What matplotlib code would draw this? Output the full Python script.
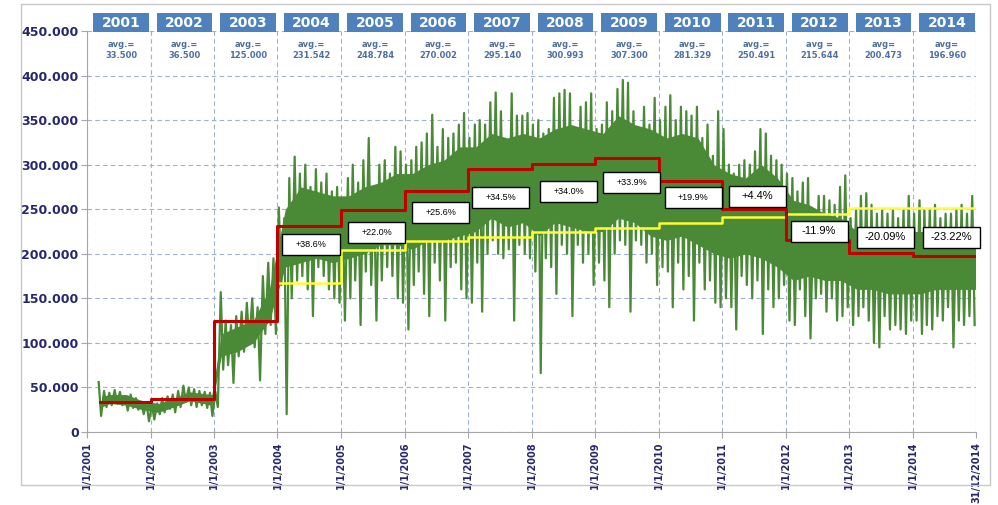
import datetime as dt
import matplotlib
matplotlib.use("Agg")
import matplotlib.pyplot as plt
import matplotlib.dates as mdates
import matplotlib.transforms as mtransforms
from matplotlib.patches import Rectangle

# ---- data ----
years = list(range(2001, 2015))
year_avg = [33500, 36500, 125000, 231542, 248784, 270002, 295140,
            300993, 307300, 281329, 250491, 215644, 200473, 196960]
avg_prefix = ["avg.="] * 11 + ["avg =", "avg=", "avg="]

# second (yellow) step line, from 2004 on
yellow_years = list(range(2004, 2015))
yellow_val = [167000, 204000, 214000, 219000, 224000, 229000,
              234000, 241000, 244500, 251500, 251500]

pct_labels = ["+38.6%", "+22.0%", "+25.6%", "+34.5%", "+34.0%", "+33.9%",
              "+19.9%", "+4.4%", "-11.9%", "-20.09%", "-23.22%"]

# daily series, summarised as monthly high / low spikes (thousands); 2001 starts in March
hi01 = [56, 46, 44, 47, 45, 40, 42, 38, 34, 33]
lo01 = [18, 28, 30, 32, 30, 24, 27, 25, 20, 12]
hi02 = [30, 32, 38, 40, 42, 46, 52, 50, 48, 46, 45, 44]
lo02 = [14, 20, 22, 26, 22, 28, 34, 30, 28, 30, 27, 18]
hi03 = [45, 157, 125, 120, 130, 135, 145, 150, 140, 175, 190, 195]
lo03 = [28, 70, 75, 55, 85, 90, 100, 95, 58, 110, 120, 110]
hi04 = [252, 240, 285, 309, 290, 300, 275, 295, 280, 290, 270, 275]
lo04 = [165, 20, 150, 170, 175, 160, 130, 185, 175, 160, 150, 145]
hi05 = [260, 285, 300, 280, 305, 330, 270, 300, 305, 290, 320, 315]
lo05 = [125, 150, 170, 120, 180, 165, 125, 170, 185, 175, 150, 145]
hi06 = [300, 305, 320, 325, 335, 356, 320, 340, 330, 335, 345, 358]
lo06 = [115, 165, 180, 155, 130, 190, 170, 125, 185, 190, 160, 150]
hi07 = [330, 345, 350, 345, 370, 381, 360, 320, 380, 355, 355, 358]
lo07 = [145, 190, 135, 200, 215, 200, 195, 205, 125, 210, 200, 195]
hi08 = [345, 350, 335, 340, 375, 380, 384, 380, 340, 365, 370, 380]
lo08 = [180, 66, 195, 185, 155, 210, 200, 130, 210, 190, 200, 165]
hi09 = [340, 345, 370, 360, 385, 395, 392, 360, 340, 365, 345, 375]
lo09 = [190, 170, 140, 200, 215, 210, 135, 215, 210, 190, 200, 165]
hi10 = [350, 365, 378, 350, 365, 360, 355, 365, 330, 345, 310, 360]
lo10 = [185, 180, 140, 190, 160, 175, 125, 190, 160, 170, 145, 140]
hi11 = [340, 300, 290, 300, 305, 300, 315, 340, 335, 310, 305, 300]
lo11 = [150, 140, 115, 175, 165, 150, 170, 110, 160, 140, 150, 165]
hi12 = [290, 285, 270, 280, 285, 250, 265, 265, 260, 255, 275, 288]
lo12 = [125, 120, 160, 130, 105, 150, 155, 135, 150, 125, 130, 140]
hi13 = [240, 250, 265, 268, 255, 245, 250, 245, 250, 240, 250, 265]
lo13 = [120, 130, 140, 125, 100, 95, 130, 115, 120, 115, 110, 125]
hi14 = [245, 260, 250, 250, 255, 240, 245, 245, 250, 255, 245, 265]
lo14 = [125, 110, 120, 115, 130, 125, 140, 95, 125, 120, 130, 120]

highs = [hi01, hi02, hi03, hi04, hi05, hi06, hi07, hi08, hi09, hi10, hi11, hi12, hi13, hi14]
lows = [lo01, lo02, lo03, lo04, lo05, lo06, lo07, lo08, lo09, lo10, lo11, lo12, lo13, lo14]

# solid body of the daily series, per quarter (thousands)
band_top = [40, 42, 42, 35,   32, 38, 45, 42,   110, 118, 125, 160,
            250, 275, 270, 265,   265, 275, 280, 290,   290, 300, 305, 320,
            320, 335, 330, 335,   330, 340, 345, 340,   335, 355, 345, 340,
            330, 335, 330, 300,   290, 285, 300, 285,   260, 255, 245, 240,
            225, 230, 225, 225,   225, 225, 225, 230]
band_bot = [28, 32, 30, 25,   22, 28, 35, 30,   85, 90, 100, 125,
            185, 190, 195, 190,   195, 200, 210, 210,   205, 215, 215, 220,
            225, 240, 230, 235,   220, 235, 230, 225,   225, 240, 235, 220,
            215, 220, 210, 200,   195, 200, 195, 185,   170, 175, 170, 170,
            160, 160, 155, 155,   155, 160, 160, 160]

# ---- build the plotted series ----
gx, gy = [], []
for yr, hs, ls in zip(years, highs, lows):
    first = 13 - len(hs)
    for k, (h, l) in enumerate(zip(hs, ls)):
        m0 = dt.date(yr, first + k, 1)
        gx += [m0 + dt.timedelta(days=8), m0 + dt.timedelta(days=22)]
        gy += [h * 1000, l * 1000]

bx = []
for yr in years:
    for q in range(4):
        bx.append(dt.date(yr, 3 * q + 2, 15))
bx[0] = dt.date(2001, 3, 25)
bx[7] = dt.date(2002, 12, 20)
bx[8] = dt.date(2003, 2, 12)
bx[-1] = dt.date(2014, 12, 28)
btop = [v * 1000 for v in band_top]
bbot = [v * 1000 for v in band_bot]

start = dt.date(2001, 3, 15)
end = dt.date(2014, 12, 31)
red_x = [start] + [dt.date(y, 1, 1) for y in years[1:]] + [end]
red_y = year_avg + [year_avg[-1]]
yel_x = [dt.date(y, 1, 1) for y in yellow_years] + [end]
yel_y = yellow_val + [yellow_val[-1]]

navy = "#26266E"
green = "#4A8A37"
fig = plt.figure(figsize=(9.98, 5.05), dpi=100)
ax = fig.add_axes([0.0872, 0.1446, 0.8908, 0.7940])

ax.fill_between(bx, bbot, btop, color=green, lw=0, zorder=2)
ax.plot(gx, gy, color=green, lw=1.6, zorder=2)
ax.step(yel_x, yel_y, where="post", color="#FFFF33", lw=1.8, zorder=3)
ax.step(red_x, red_y, where="post", color="#C00000", lw=2.2, zorder=4)

ax.set_ylim(0, 450000)
ax.set_xlim(dt.date(2001, 1, 1), end)
ax.set_yticks(range(0, 450001, 50000))
ax.set_yticklabels(["0"] + [f"{v:,}".replace(",", ".") for v in range(50000, 450001, 50000)],
                   fontsize=9, fontweight="bold", color=navy)
xt = [dt.date(y, 1, 1) for y in years] + [end]
ax.set_xticks(xt)
ax.set_xticklabels([f"1/1/{y}" for y in years] + ["31/12/2014"], rotation=90,
                   fontsize=7, fontweight="bold", color=navy)
ax.tick_params(axis="y", length=4, color="#A6A6A6", pad=2)
ax.tick_params(axis="x", length=4, color="#A6A6A6", pad=3)
ax.grid(True, color="#9FB0CC", lw=0.8, ls=(0, (4, 3)))
ax.set_axisbelow(True)
for s in ("top", "right"):
    ax.spines[s].set_visible(False)
for s in ("left", "bottom"):
    ax.spines[s].set_color("#A6A6A6")

# year header boxes and averages above the plot
tr = mtransforms.blended_transform_factory(ax.transData, ax.transAxes)
for yr, av, pre in zip(years, year_avg, avg_prefix):
    x0 = mdates.date2num(dt.date(yr, 1, 1)) + 36
    ax.add_patch(Rectangle((x0, 0.998), 320, 0.047, transform=tr, clip_on=False,
                           facecolor="#4F81BD", edgecolor="none", zorder=5))
    ax.text(x0 + 160, 1.021, str(yr), transform=tr, ha="center", va="center",
            color="white", fontsize=10, fontweight="bold", zorder=6)
    ax.text(x0 + 160, 0.952, f"{pre}\n{av:,}".replace(",", "."), transform=tr,
            ha="center", va="center", color="#4D6FA3", fontsize=6,
            fontweight="bold", linespacing=1.3, zorder=6)

# percentage boxes (centre position in year fraction, value)
pct_pos = [(2004.528, 210400), (2005.559, 223900), (2006.567, 246300),
           (2007.512, 263200), (2008.583, 269900), (2009.575, 280000),
           (2010.543, 263200), (2011.559, 264800), (2012.528, 225000),
           (2013.567, 218800), (2014.606, 218800)]
pct_size = [6.5] * 7 + [8] * 4
for lab, (xf, yv), fs in zip(pct_labels, pct_pos, pct_size):
    yr = int(xf)
    xc = mdates.date2num(dt.date(yr, 1, 1)) + (xf - yr) * 365.25
    w = 0.90 * 365.25
    ax.add_patch(Rectangle((xc - w / 2, yv - 11800), w, 23600, facecolor="white",
                           edgecolor="black", lw=1.0, zorder=6, clip_on=False))
    ax.text(xc, yv, lab, ha="center", va="center", fontsize=fs,
            family="Liberation Sans", zorder=7)

fig.patches.append(Rectangle((21 / 998, 20 / 505), 969 / 998, 481 / 505,
                             transform=fig.transFigure, fill=False,
                             edgecolor="#C8C8C8", lw=1.0))
fig.savefig("out.png", dpi=100)
